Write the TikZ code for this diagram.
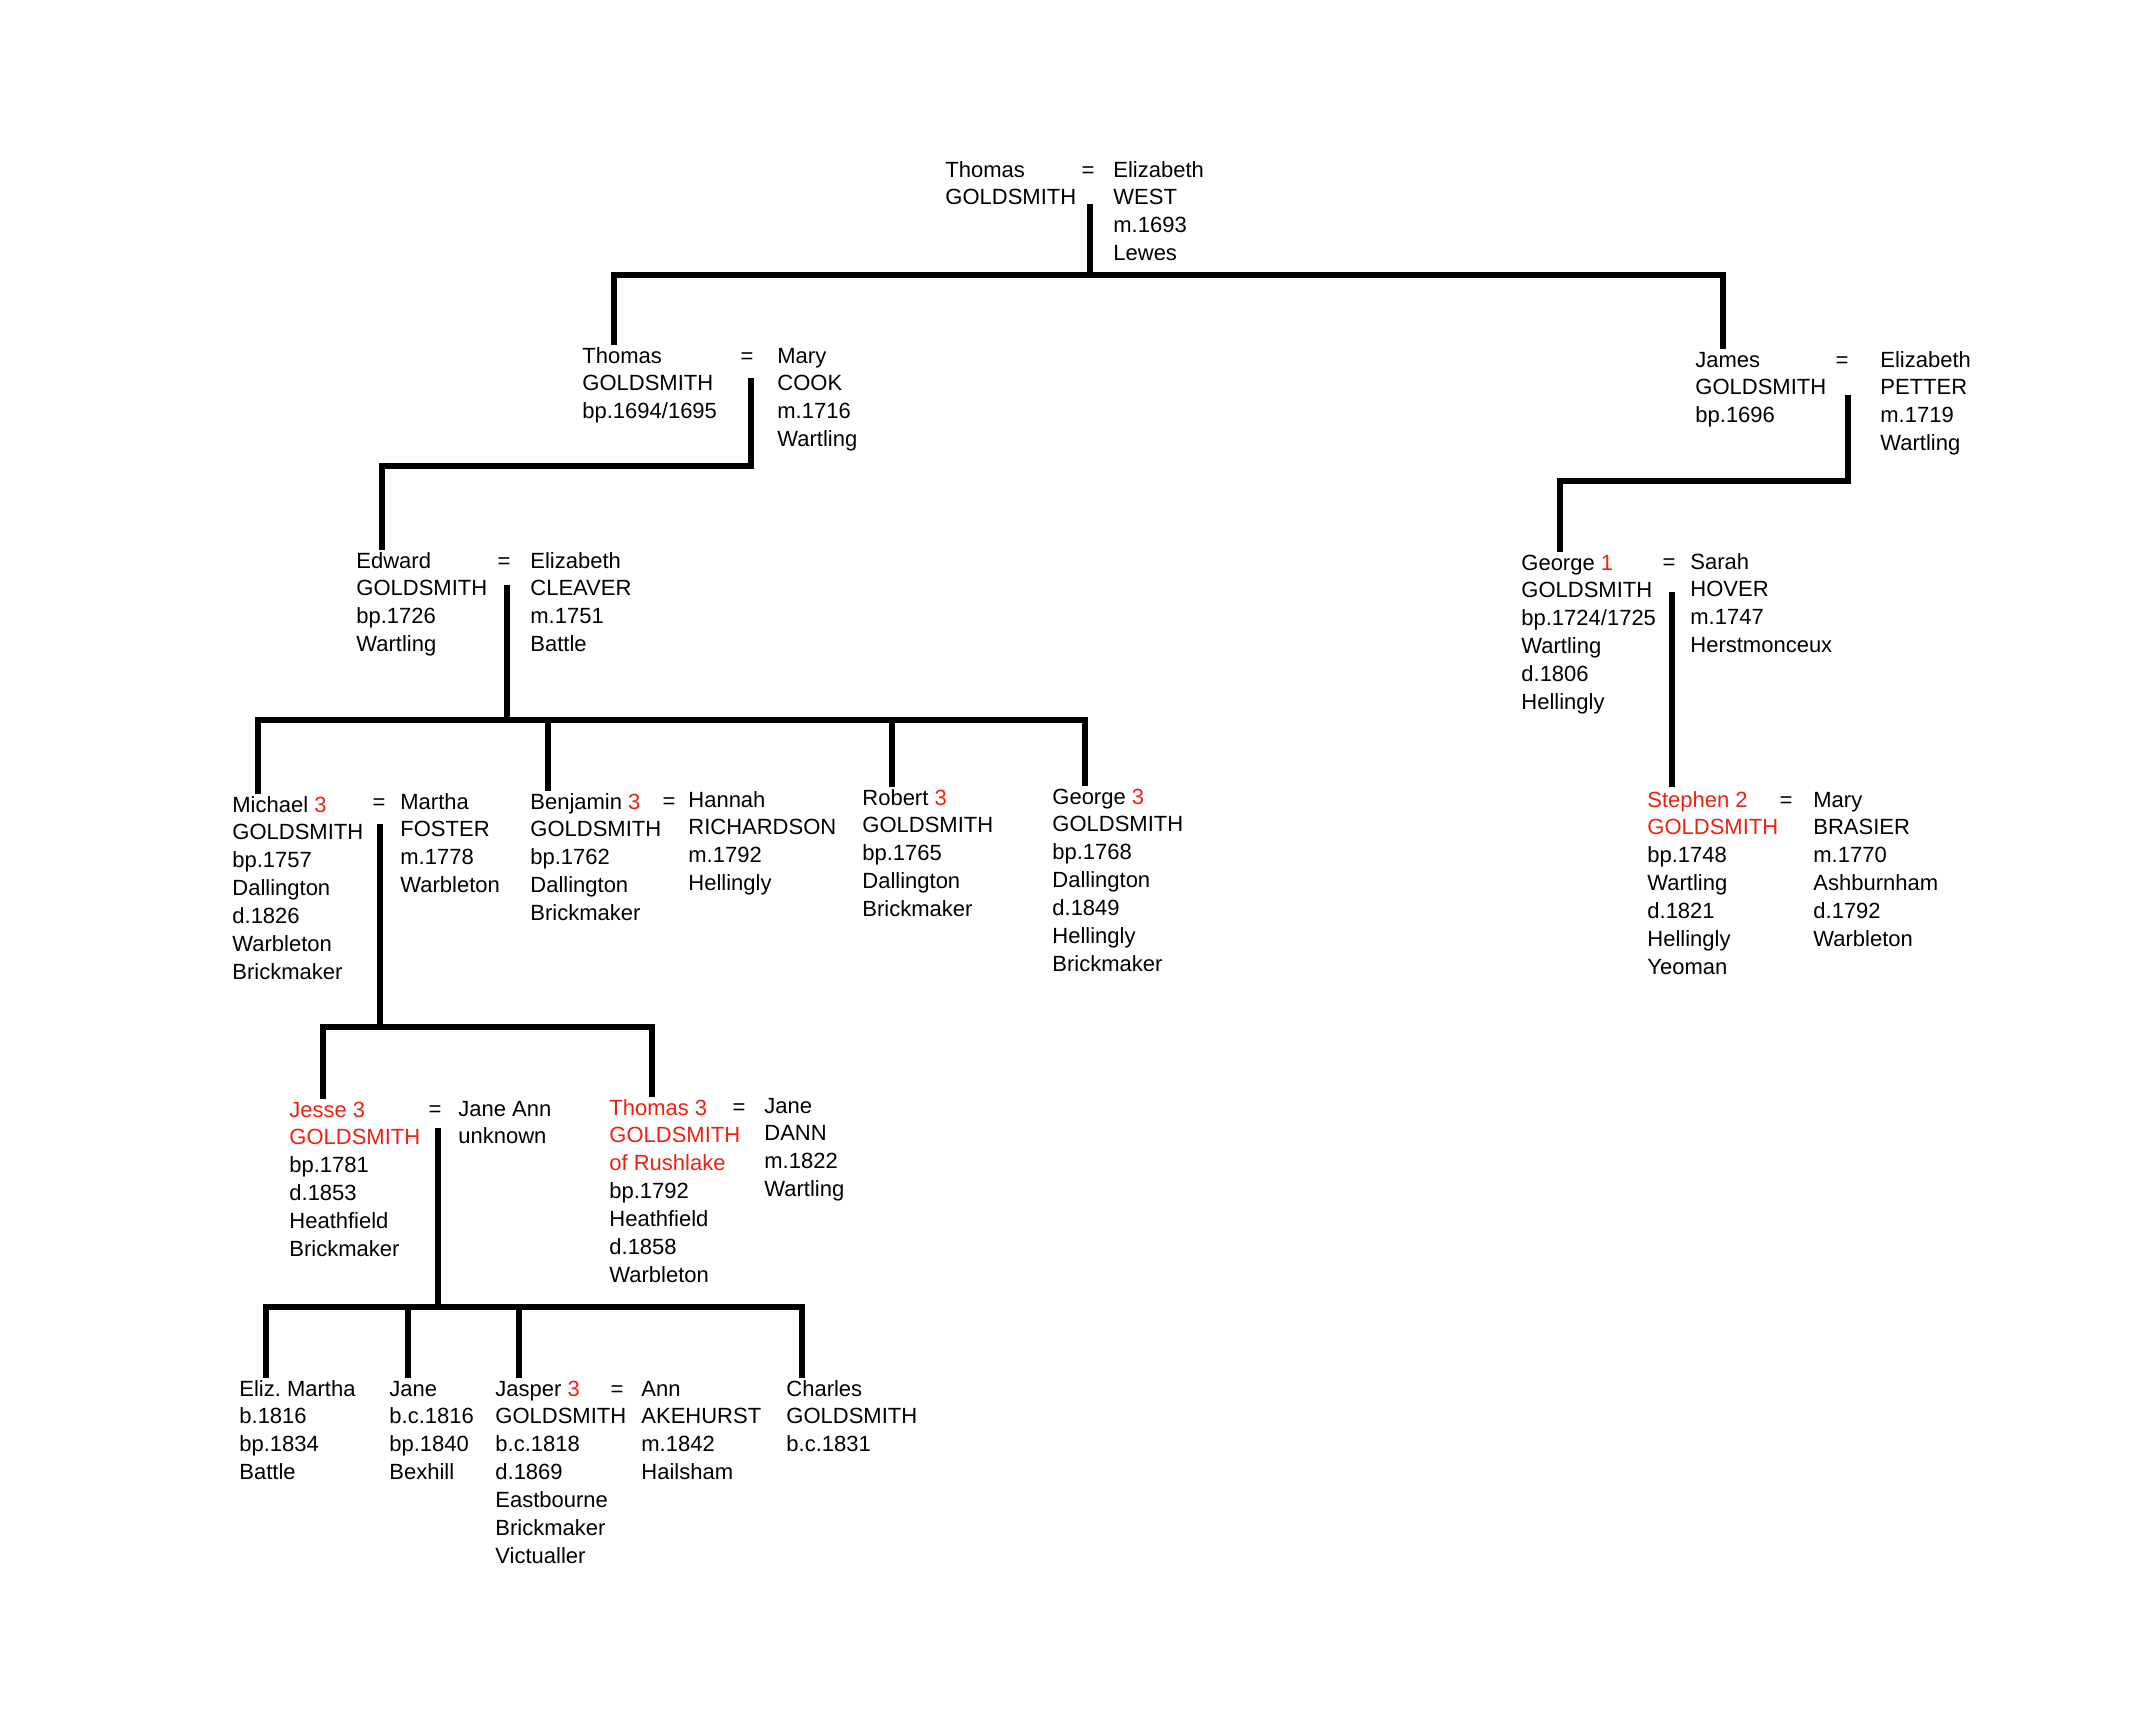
\documentclass[tikz,border=0pt]{standalone}
\usepackage{fontspec}
\setmainfont{Liberation Sans}
\usepackage{xcolor}
\usepackage{tikz}
\usetikzlibrary{positioning}

\definecolor{genred}{RGB}{240,32,16}
\newcommand{\gnum}[1]{\textcolor{genred}{#1}}
\newcommand{\rows}[1]{\begin{tabular}[t]{@{}l@{}}#1\end{tabular}}
\frenchspacing

\begin{document}
\begin{tikzpicture}[
    x=0.5pt,
    y=-0.5pt,
    person/.style={
        anchor=base west,
        inner sep=0pt,
        font=\fontsize{11}{13.95}\selectfont
    },
    wed/.style={
        anchor=base,
        inner sep=0pt,
        font=\fontsize{11}{13.95}\selectfont
    },
    tie/.style={line width=3.2pt}
]
\useasboundingbox (0,0) rectangle (2131,1720);

\node[person] (tg1) at (945,177) {\rows{Thomas\\GOLDSMITH}};
\node[wed] (eq1) at (1088,177) {=};
\node[person] (ew1) at (1113,177) {\rows{Elizabeth\\WEST\\m.1693\\Lewes}};

\node[person] (tg2) at (582,363) {\rows{Thomas\\GOLDSMITH\\bp.1694/1695}};
\node[wed] (eq2) at (747,363) {=};
\node[person] (mc2) at (777,363) {\rows{Mary\\COOK\\m.1716\\Wartling}};

\node[person] (jg2) at (1695,367) {\rows{James\\GOLDSMITH\\bp.1696}};
\node[wed] (eq3) at (1842,367) {=};
\node[person] (ep2) at (1880,367) {\rows{Elizabeth\\PETTER\\m.1719\\Wartling}};

\node[person] (eg3) at (356,568) {\rows{Edward\\GOLDSMITH\\bp.1726\\Wartling}};
\node[wed] (eq4) at (504,568) {=};
\node[person] (ec3) at (530,568) {\rows{Elizabeth\\CLEAVER\\m.1751\\Battle}};

\node[person] (gg3) at (1521,570) {\rows{George \gnum{1}\\GOLDSMITH\\bp.1724/1725\\Wartling\\d.1806\\Hellingly}};
\node[wed] (eq5) at (1669,569) {=};
\node[person] (sh3) at (1690,569) {\rows{Sarah\\HOVER\\m.1747\\Herstmonceux}};

\node[person] (mg4) at (232,812) {\rows{Michael \gnum{3}\\GOLDSMITH\\bp.1757\\Dallington\\d.1826\\Warbleton\\Brickmaker}};
\node[wed] (eq6) at (379,809) {=};
\node[person] (mf4) at (400,809) {\rows{Martha\\FOSTER\\m.1778\\Warbleton}};

\node[person] (bg4) at (530,809) {\rows{Benjamin \gnum{3}\\GOLDSMITH\\bp.1762\\Dallington\\Brickmaker}};
\node[wed] (eq7) at (669,808) {=};
\node[person] (hr4) at (688,807) {\rows{Hannah\\RICHARDSON\\m.1792\\Hellingly}};

\node[person] (rg4) at (862,805) {\rows{Robert \gnum{3}\\GOLDSMITH\\bp.1765\\Dallington\\Brickmaker}};

\node[person] (gg4) at (1052,804) {\rows{George \gnum{3}\\GOLDSMITH\\bp.1768\\Dallington\\d.1849\\Hellingly\\Brickmaker}};

\node[person] (sg4) at (1647,807) {\rows{\gnum{Stephen 2}\\\gnum{GOLDSMITH}\\bp.1748\\Wartling\\d.1821\\Hellingly\\Yeoman}};
\node[wed] (eq8) at (1786,807) {=};
\node[person] (mb4) at (1813,807) {\rows{Mary\\BRASIER\\m.1770\\Ashburnham\\d.1792\\Warbleton}};

\node[person] (jg5) at (289,1117) {\rows{\gnum{Jesse 3}\\\gnum{GOLDSMITH}\\bp.1781\\d.1853\\Heathfield\\Brickmaker}};
\node[wed] (eq9) at (435,1116) {=};
\node[person] (ja5) at (458,1116) {\rows{Jane Ann\\unknown}};

\node[person] (tg5) at (609,1115) {\rows{\gnum{Thomas 3}\\\gnum{GOLDSMITH}\\\gnum{of Rushlake}\\bp.1792\\Heathfield\\d.1858\\Warbleton}};
\node[wed] (eq10) at (739,1114) {=};
\node[person] (jd5) at (764,1113) {\rows{Jane\\DANN\\m.1822\\Wartling}};

\node[person] (em6) at (239,1396) {\rows{Eliz. Martha\\b.1816\\bp.1834\\Battle}};
\node[person] (jb6) at (389,1396) {\rows{Jane\\b.c.1816\\bp.1840\\Bexhill}};
\node[person] (jg6) at (495,1396) {\rows{Jasper \gnum{3}\\GOLDSMITH\\b.c.1818\\d.1869\\Eastbourne\\Brickmaker\\Victualler}};
\node[wed] (eq11) at (617,1396) {=};
\node[person] (aa6) at (641,1396) {\rows{Ann\\AKEHURST\\m.1842\\Hailsham}};
\node[person] (cg6) at (786,1396) {\rows{Charles\\GOLDSMITH\\b.c.1831}};

\coordinate (dtg2) at ([xshift=16pt,yshift=-1pt]tg2.north west);
\coordinate (djg2) at ([xshift=14pt,yshift=-1pt]jg2.north west);
\coordinate (deg3) at ([xshift=13pt,yshift=-1pt]eg3.north west);
\coordinate (dgg3) at ([xshift=19.5pt,yshift=-1pt]gg3.north west);
\coordinate (dmg4) at ([xshift=13pt,yshift=-1pt]mg4.north west);
\coordinate (dbg4) at ([xshift=9pt,yshift=-1pt]bg4.north west);
\coordinate (drg4) at ([xshift=15pt,yshift=-1pt]rg4.north west);
\coordinate (dgg4) at ([xshift=16.5pt,yshift=-1pt]gg4.north west);
\coordinate (djg5) at ([xshift=17pt,yshift=-1pt]jg5.north west);
\coordinate (dtg5) at ([xshift=21.5pt,yshift=-1pt]tg5.north west);
\coordinate (dem6) at ([xshift=13.5pt,yshift=-1pt]em6.north west);
\coordinate (djb6) at ([xshift=9.5pt,yshift=-1pt]jb6.north west);
\coordinate (djg6) at ([xshift=12pt,yshift=-1pt]jg6.north west);
\coordinate (dcg6) at ([xshift=8pt,yshift=-1pt]cg6.north west);

\draw[tie] (eq1.base) ++(2,27) -- ++(0,71) coordinate (b1);
\draw[tie] (dtg2) |- (b1) -| (djg2);

\draw[tie] (eq2.base) ++(4,15) -- ++(0,88) -| (deg3);
\draw[tie] (eq3.base) ++(6,28) -- ++(0,86) -| (dgg3);

\draw[tie] (eq4.base) ++(3,17) -- ++(0,135) coordinate (b4);
\draw[tie] (dmg4) |- (b4) -| (dgg4);
\draw[tie] (dbg4 |- b4) -- (dbg4);
\draw[tie] (drg4 |- b4) -- (drg4);

\draw[tie] (eq5.base) ++(3,23) coordinate (v5) -- (v5 |- sg4.north);

\draw[tie] (eq6.base) ++(1,15) -- ++(0,203) coordinate (b6);
\draw[tie] (djg5) |- (b6) -| (dtg5);

\draw[tie] (eq9.base) ++(3,12) -- ++(0,179) coordinate (b9);
\draw[tie] (dem6) |- (b9) -| (dcg6);
\draw[tie] (djb6 |- b9) -- (djb6);
\draw[tie] (djg6 |- b9) -- (djg6);

\end{tikzpicture}
\end{document}
